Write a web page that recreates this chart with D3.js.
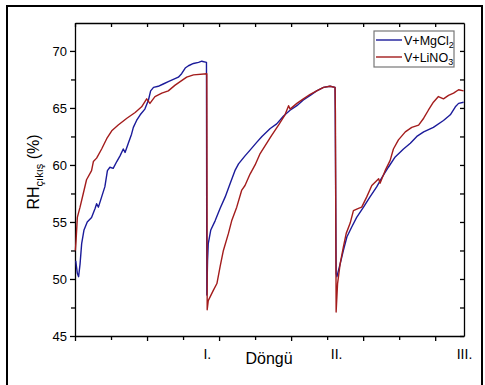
<!DOCTYPE html>
<html>
<head>
  <script src="https://d3js.org/d3.v7.min.js"></script>
  <style>
    body { margin: 0; background: #fff; font-family: "Liberation Sans", Arial, sans-serif; }
    .axis path, .axis line { stroke: #000; stroke-width: 1.3; }
    .axis text { font-size: 13px; fill: #000; font-family: "Liberation Sans", Arial, sans-serif; }
  </style>
</head>
<body>
  <div id="chart"></div>
  <script>
    // x in minor-tick units (no numeric labels in the figure), y = RH %
    const mgcl2 = [
      [0.02, 51.6], [0.065, 50.5], [0.10, 50.2], [0.14, 51.3], [0.185, 53.1], [0.25, 54.3],
      [0.34, 55.0], [0.46, 55.4], [0.56, 56.2], [0.60, 56.6], [0.65, 56.3], [0.74, 57.2],
      [0.83, 58.1], [0.90, 59.5], [0.97, 59.8], [1.06, 59.7], [1.16, 60.3], [1.25, 60.8],
      [1.34, 61.4], [1.39, 61.1], [1.48, 61.9], [1.57, 62.7], [1.62, 63.3], [1.71, 63.9],
      [1.81, 64.4], [1.94, 64.9], [2.04, 65.7], [2.10, 66.5], [2.18, 66.8], [2.31, 66.9],
      [2.45, 67.1], [2.59, 67.3], [2.73, 67.5], [2.87, 67.7], [2.96, 68.0], [3.06, 68.5],
      [3.15, 68.7], [3.29, 68.9], [3.43, 69.0], [3.52, 69.1], [3.65, 69.0],
      [3.66, 48.6], [3.68, 51.6], [3.70, 53.1], [3.77, 54.3], [3.89, 55.1], [4.03, 56.2],
      [4.17, 57.2], [4.31, 58.4], [4.44, 59.5], [4.54, 60.1], [4.72, 60.8], [4.86, 61.3],
      [5.05, 62.0], [5.19, 62.5], [5.42, 63.2], [5.60, 63.6], [5.79, 64.3], [5.97, 64.8],
      [6.16, 65.2], [6.34, 65.7], [6.53, 66.1], [6.71, 66.5], [6.90, 66.8], [7.08, 66.9],
      [7.22, 66.8],
      [7.25, 50.5], [7.27, 50.2], [7.36, 51.3], [7.45, 52.5], [7.55, 53.7], [7.69, 54.6],
      [7.82, 55.4], [8.01, 56.3], [8.19, 57.2], [8.38, 58.1], [8.52, 58.9], [8.70, 59.8],
      [8.89, 60.7], [9.12, 61.4], [9.31, 61.9], [9.49, 62.5], [9.68, 62.9], [9.95, 63.3],
      [10.23, 63.9], [10.42, 64.4], [10.56, 65.1], [10.65, 65.4], [10.79, 65.5]
    ];
    const lino3 = [
      [0.01, 52.5], [0.03, 53.4], [0.065, 55.4], [0.14, 56.3], [0.23, 57.5], [0.32, 58.7],
      [0.46, 59.5], [0.51, 60.3], [0.60, 60.6], [0.74, 61.4], [0.88, 62.3], [1.02, 63.0],
      [1.20, 63.5], [1.44, 64.1], [1.67, 64.6], [1.85, 65.1], [1.99, 65.8], [2.08, 65.4],
      [2.22, 66.0], [2.41, 66.3], [2.59, 66.5], [2.78, 67.0], [2.96, 67.4], [3.10, 67.7],
      [3.29, 67.9], [3.66, 68.0],
      [3.67, 47.3], [3.70, 48.1], [3.84, 49.0], [3.94, 49.6], [4.03, 51.1], [4.12, 52.5],
      [4.26, 54.0], [4.35, 55.1], [4.49, 56.3], [4.63, 57.8], [4.72, 58.2], [4.86, 59.2],
      [5.00, 60.0], [5.14, 61.0], [5.28, 61.7], [5.46, 62.6], [5.65, 63.5], [5.83, 64.4],
      [5.93, 65.2], [5.97, 64.9], [6.16, 65.4], [6.34, 65.8], [6.53, 66.2], [6.71, 66.5],
      [6.90, 66.8], [7.08, 66.9], [7.22, 66.8],
      [7.23, 64.5], [7.25, 47.1], [7.29, 49.6], [7.36, 51.3], [7.45, 52.8], [7.53, 54.0],
      [7.64, 54.9], [7.73, 56.0], [7.87, 56.2], [7.96, 56.3], [8.10, 57.2], [8.24, 58.2],
      [8.43, 58.8], [8.47, 58.4], [8.61, 59.5], [8.75, 60.4], [8.84, 61.4], [8.98, 62.2],
      [9.17, 62.9], [9.35, 63.3], [9.54, 63.5], [9.68, 64.1], [9.81, 64.8], [9.95, 65.5],
      [10.09, 66.0], [10.23, 65.8], [10.37, 66.1], [10.51, 66.3], [10.65, 66.6], [10.79, 66.5]
    ];
    const yTicks = [45, 50, 55, 60, 65, 70];
    const cycleTicks = [3.66, 7.25, 10.8];
    const cycleLabels = ["I.", "II.", "III."];
    const seriesNames = ["V+MgCl", "V+LiNO"];
    const seriesSubs = ["2", "3"];
    const colors = ["#1b1b9a", "#a31c1c"];

    const W = 485, H = 385;
    const margin = {top: 23, right: 21, bottom: 49, left: 75};
    const width = W - margin.left - margin.right;
    const height = H - margin.top - margin.bottom;

    const svg = d3.select("#chart").append("svg")
      .attr("width", W).attr("height", H);

    // outer frame
    svg.append("rect")
      .attr("x", 7).attr("y", 6).attr("width", 475).attr("height", 390)
      .attr("fill", "none").attr("stroke", "#000").attr("stroke-width", 2);

    const g = svg.append("g").attr("transform", `translate(${margin.left},${margin.top})`);

    const x = d3.scaleLinear().domain([0, 10.8]).range([0, width]);
    const y = d3.scaleLinear().domain([45, 72.45]).range([height, 0]);

    const majorX = d3.range(0, 11, 2), minorX = d3.range(1, 11, 2);
    const minorY = [47.5, 52.5, 57.5, 62.5, 67.5, 72.5].filter(v => v <= 72.45);

    // bottom
    g.append("g").attr("class", "axis").attr("transform", `translate(0,${height})`)
      .call(d3.axisBottom(x).tickValues(majorX).tickSize(5).tickSizeOuter(0).tickFormat(""));
    g.append("g").attr("class", "axis").attr("transform", `translate(0,${height})`)
      .call(d3.axisBottom(x).tickValues(minorX).tickSize(4).tickSizeOuter(0).tickFormat(""))
      .select(".domain").remove();
    // cycle labels
    g.append("g").attr("class", "axis").attr("transform", `translate(0,${height})`)
      .call(d3.axisBottom(x).tickValues(cycleTicks).tickSize(0).tickPadding(13)
        .tickFormat((d, i) => cycleLabels[i]))
      .call(s => s.select(".domain").remove())
      .selectAll("text").style("font-size", "14px");
    // top
    g.append("g").attr("class", "axis")
      .call(d3.axisTop(x).tickValues(majorX.concat(minorX)).tickSize(-4).tickSizeOuter(0).tickFormat(""));
    // left
    g.append("g").attr("class", "axis")
      .call(d3.axisLeft(y).tickValues(yTicks).tickSize(5).tickSizeOuter(0).tickPadding(3));
    g.append("g").attr("class", "axis")
      .call(d3.axisLeft(y).tickValues(minorY).tickSize(4).tickSizeOuter(0).tickFormat(""))
      .select(".domain").remove();
    // right
    g.append("g").attr("class", "axis").attr("transform", `translate(${width},0)`)
      .call(d3.axisRight(y).tickValues(yTicks.concat(minorY)).tickSize(-4).tickSizeOuter(0).tickFormat(""));

    const line = d3.line().x(d => x(d[0])).y(d => y(d[1]));
    [mgcl2, lino3].forEach((data, i) => {
      g.append("path").datum(data)
        .attr("fill", "none").attr("stroke", colors[i]).attr("stroke-width", 1.4)
        .attr("stroke-linejoin", "round").attr("d", line);
    });

    // axis titles
    const yt = svg.append("text")
      .attr("transform", `translate(39,172) rotate(-90)`)
      .attr("text-anchor", "middle").style("font-size", "16px");
    yt.append("tspan").text("RH");
    yt.append("tspan").attr("dy", 4).style("font-size", "11px").text("çıkış");
    yt.append("tspan").attr("dy", -4).text(" (%)");

    svg.append("text").attr("x", 269).attr("y", 364).attr("text-anchor", "middle")
      .style("font-size", "16px").text("Döngü");

    // legend
    const lg = svg.append("g").attr("transform", "translate(374,31)");
    lg.append("rect").attr("width", 80).attr("height", 36)
      .attr("fill", "#fff").attr("stroke", "#777").attr("stroke-width", 1.2);
    seriesNames.forEach((n, i) => {
      const ly = 9 + i * 17;
      lg.append("line").attr("x1", 2).attr("x2", 28).attr("y1", ly).attr("y2", ly)
        .attr("stroke", colors[i]).attr("stroke-width", 1.4);
      const t = lg.append("text").attr("x", 30).attr("y", ly + 4.5).style("font-size", "12.5px");
      t.append("tspan").text(n);
      t.append("tspan").attr("dy", 3).style("font-size", "9px").text(seriesSubs[i]);
    });
  </script>
</body>
</html>
